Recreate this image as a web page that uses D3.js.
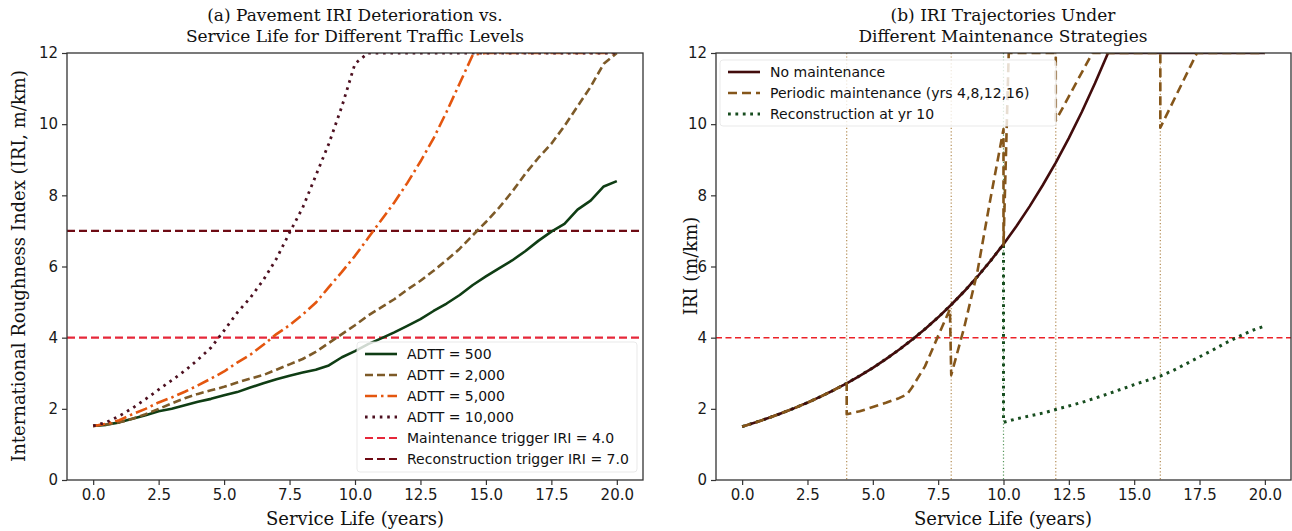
<!DOCTYPE html>
<html>
<head>
<meta charset="utf-8">
<script src="https://cdn.jsdelivr.net/npm/d3@7"></script>
<style>
body { margin: 0; background: #fff; }
svg { display: block; }
.tick text { font-family: "DejaVu Sans", sans-serif; font-size: 15px; fill: #1a1a1a; }
.tick line { stroke: #333; stroke-width: 1.2; }
.title, .alabel { font-family: "DejaVu Serif", serif; fill: #111; }
.leg { font-family: "DejaVu Sans", sans-serif; font-size: 14px; fill: #111; }
</style>
</head>
<body>
<svg id="chart" width="1292" height="531"></svg>
<script>
// ---- data ----
const years = [0,0.5,1,1.5,2,2.5,3,3.5,4,4.5,5,5.5,6,6.5,7,7.5,8,8.5,9,9.5,10,
  10.5,11,11.5,12,12.5,13,13.5,14,14.5,15,15.5,16,16.5,17,17.5,18,18.5,19,19.5,20]

const adtt500 = [1.52,1.55,1.62,1.72,1.82,1.93,2.0,2.1,2.2,2.28,2.38,2.47,2.6,2.72,2.83,2.93,3.02,3.1,3.22,3.45,3.62,
  3.82,3.98,4.15,4.33,4.52,4.75,4.96,5.2,5.48,5.72,5.95,6.17,6.43,6.72,6.98,7.2,7.6,7.85,8.25,8.4]
const adtt2000 = [1.52,1.56,1.62,1.72,1.85,2.0,2.15,2.3,2.42,2.52,2.62,2.74,2.85,2.95,3.1,3.25,3.4,3.6,3.85,4.1,4.35,
  4.62,4.85,5.08,5.35,5.6,5.88,6.18,6.5,6.88,7.25,7.65,8.1,8.6,9.05,9.45,9.95,10.5,11.05,11.7,12.0]
const adtt5000 = [1.52,1.58,1.68,1.85,2.0,2.18,2.32,2.48,2.66,2.85,3.05,3.3,3.52,3.8,4.1,4.35,4.65,4.98,5.42,5.85,6.3,
  6.8,7.3,7.8,8.35,8.95,9.6,10.35,11.15,11.95,12,12,12,12,12,12,12,12,12,12,12]
const adtt10000 = [1.52,1.62,1.8,2.02,2.27,2.54,2.8,3.07,3.38,3.72,4.2,4.7,5.12,5.62,6.22,6.95,7.65,8.55,9.45,10.5,11.7,
  12,12,12,12,12,12,12,12,12,12,12,12,12,12,12,12,12,12,12,12]
const trafficNames = ["ADTT = 500", "ADTT = 2,000", "ADTT = 5,000", "ADTT = 10,000"]
const triggerValues = [4.0, 7.0]
const triggerNames = ["Maintenance trigger IRI = 4.0", "Reconstruction trigger IRI = 7.0"]

// right panel: [year, IRI]
const noMaint = [[0,1.5],[0.5,1.616],[1,1.74],[1.5,1.875],[2,2.019],[2.5,2.175],[3,2.343],[3.5,2.523],[4,2.718],
  [4.5,2.928],[5,3.153],[5.5,3.397],[6,3.659],[6.5,3.941],[7,4.245],[7.5,4.572],[8,4.925],[8.5,5.304],[9,5.713],
  [9.5,6.154],[10,6.628],[10.5,7.139],[11,7.69],[11.5,8.283],[12,8.921],[12.5,9.609],[13,10.35],[13.5,11.15],
  [14,12],[20,12]]
const periodic = [[0,1.5],[0.5,1.616],[1,1.74],[1.5,1.875],[2,2.019],[2.5,2.175],[3,2.343],[3.5,2.523],[4,2.718],
  [4,1.85],[4.5,1.93],[5,2.05],[5.5,2.17],[6,2.3],[6.3,2.4],[6.5,2.6],[7,3.2],[7.5,4.05],[7.95,4.8],
  [8,2.95],[8.5,4.3],[9,5.85],[9.5,7.9],[10,9.86],[10,6.6],[10.2,12],[12,12],[12,10.1],[13.4,12],[16,12],[16,9.9],
  [17.4,12],[20,12]]
const recon = [[0,1.5],[0.5,1.616],[1,1.74],[1.5,1.875],[2,2.019],[2.5,2.175],[3,2.343],[3.5,2.523],[4,2.718],
  [4.5,2.928],[5,3.153],[5.5,3.397],[6,3.659],[6.5,3.941],[7,4.245],[7.5,4.572],[8,4.925],[8.5,5.304],[9,5.713],
  [9.5,6.154],[10,6.628],[10,1.62],[10.5,1.72],[11,1.8],[11.5,1.88],[12,1.98],[12.5,2.08],[13,2.18],[13.5,2.3],
  [14,2.42],[14.5,2.55],[15,2.68],[15.5,2.8],[16,2.92],[16.5,3.08],[17,3.27],[17.5,3.46],[18,3.65],[18.5,3.85],
  [19,4.03],[19.5,4.2],[20,4.33]]
const strategyNames = ["No maintenance", "Periodic maintenance (yrs 4,8,12,16)", "Reconstruction at yr 10"]
const maintYears = [4, 8, 12, 16]
const reconYear = 10

const xTicks = [0,2.5,5,7.5,10,12.5,15,17.5,20]
const yTicks = [0,2,4,6,8,10,12]

// ---- layout ----
const svg = d3.select("#chart")
const plotTop = 53, plotBottom = 480
const y = d3.scaleLinear().domain([0, 12]).range([plotBottom, plotTop])
const xA = d3.scaleLinear().domain([-1, 21]).range([67, 643])
const xB = d3.scaleLinear().domain([-1, 21]).range([716, 1291])

function axes(x, id) {
  svg.append("clipPath").attr("id", id).append("rect")
    .attr("x", x.range()[0]).attr("y", plotTop)
    .attr("width", x.range()[1] - x.range()[0]).attr("height", plotBottom - plotTop)
  const gx = svg.append("g").attr("transform", `translate(0,${plotBottom})`)
    .call(d3.axisBottom(x).tickValues(xTicks).tickFormat(d3.format(".1f")).tickSize(5).tickPadding(4).tickSizeOuter(0))
  gx.select(".domain").remove()
  const gy = svg.append("g").attr("transform", `translate(${x.range()[0]},0)`)
    .call(d3.axisLeft(y).tickValues(yTicks).tickFormat(d3.format("d")).tickSize(5).tickPadding(4).tickSizeOuter(0))
  gy.select(".domain").remove()
  return svg.append("g").attr("clip-path", `url(#${id})`)
}

function spines(x) {
  svg.append("rect").attr("x", x.range()[0]).attr("y", plotTop)
    .attr("width", x.range()[1] - x.range()[0]).attr("height", plotBottom - plotTop)
    .attr("fill", "none").attr("stroke", "#333").attr("stroke-width", 1.3)
}

function styled(sel, st) {
  sel.attr("fill", "none").attr("stroke", st.color).attr("stroke-width", st.width)
    .attr("stroke-dasharray", st.dash).attr("stroke-linejoin", "round")
  if (st.opacity) sel.attr("stroke-opacity", st.opacity)
  return sel
}

function legend(x0, y0, w, h, items) {
  const g = svg.append("g")
  g.append("rect").attr("x", x0).attr("y", y0).attr("width", w).attr("height", h).attr("rx", 3)
    .attr("fill", "#fff").attr("fill-opacity", 0.8).attr("stroke", "#e4e4e4").attr("stroke-opacity", 0.8)
  items.forEach((it, i) => {
    const cy = y0 + 12 + i * 21
    styled(g.append("line").attr("x1", x0 + 8).attr("x2", x0 + 40).attr("y1", cy).attr("y2", cy), it.style)
    g.append("text").attr("class", "leg").attr("x", x0 + 50).attr("y", cy).attr("dy", "0.35em").text(it.name)
  })
}

// ---- panel (a) ----
const lineA = d3.line().x(d => xA(d[0])).y(d => y(d[1]))
const pa = axes(xA, "clipA")
const trafficStyles = [
  {color: "#0f3d14", width: 2.6, dash: null},
  {color: "#7d5a28", width: 2.6, dash: "8,4"},
  {color: "#e4560f", width: 2.6, dash: "12,4,2.5,4"},
  {color: "#4d1020", width: 2.8, dash: "2.6,4.8"}
]
const triggerStyles = [
  {color: "#e6283a", width: 2.2, dash: "8,4"},
  {color: "#6e0b14", width: 2.2, dash: "8,4"}
]
triggerValues.forEach((v, i) => {
  styled(pa.append("line").attr("x1", xA.range()[0]).attr("x2", xA.range()[1])
    .attr("y1", y(v)).attr("y2", y(v)), triggerStyles[i])
})
;[adtt500, adtt2000, adtt5000, adtt10000].forEach((vals, i) => {
  styled(pa.append("path").datum(years.map((t, j) => [t, vals[j]])).attr("d", lineA), trafficStyles[i])
})
spines(xA)
legend(357, 342, 280, 130, trafficNames.map((n, i) => ({name: n, style: trafficStyles[i]}))
  .concat(triggerNames.map((n, i) => ({name: n, style: triggerStyles[i]}))))

// ---- panel (b) ----
const lineB = d3.line().x(d => xB(d[0])).y(d => y(d[1]))
const pb = axes(xB, "clipB")
const strategyStyles = [
  {color: "#420c0c", width: 2.6, dash: null},
  {color: "#85561a", width: 2.6, dash: "9,5"},
  {color: "#174d1f", width: 3, dash: "2.8,4.6"}
]
maintYears.forEach(t => {
  styled(pb.append("line").attr("x1", xB(t)).attr("x2", xB(t)).attr("y1", plotTop).attr("y2", plotBottom),
    {color: "#a0702a", width: 1.2, dash: "1.2,2.2", opacity: 0.8})
})
styled(pb.append("line").attr("x1", xB(reconYear)).attr("x2", xB(reconYear)).attr("y1", plotTop).attr("y2", plotBottom),
  {color: "#2e7d32", width: 1.2, dash: "1.2,2.2", opacity: 0.8})
styled(pb.append("line").attr("x1", xB.range()[0]).attr("x2", xB.range()[1]).attr("y1", y(4)).attr("y2", y(4)),
  {color: "#ec2228", width: 1.5, dash: "6,3.5"})
styled(pb.append("path").datum(recon).attr("d", lineB), strategyStyles[2])
styled(pb.append("path").datum(noMaint).attr("d", lineB), strategyStyles[0])
styled(pb.append("path").datum(periodic).attr("d", lineB), strategyStyles[1])
spines(xB)
legend(720, 60, 336, 66, strategyNames.map((n, i) => ({name: n, style: strategyStyles[i]})))

// ---- titles & labels ----
function title(cx, lines) {
  lines.forEach((s, i) => {
    svg.append("text").attr("class", "title").attr("x", cx).attr("y", 21 + i * 21)
      .attr("text-anchor", "middle").attr("font-size", 17).text(s)
  })
}
title(355, ["(a) Pavement IRI Deterioration vs.", "Service Life for Different Traffic Levels"])
title(1003, ["(b) IRI Trajectories Under", "Different Maintenance Strategies"])

svg.append("text").attr("class", "alabel").attr("x", 355).attr("y", 525).attr("text-anchor", "middle")
  .attr("font-size", 18).text("Service Life (years)")
svg.append("text").attr("class", "alabel").attr("x", 1003).attr("y", 525).attr("text-anchor", "middle")
  .attr("font-size", 18).text("Service Life (years)")
svg.append("text").attr("class", "alabel").attr("transform", "translate(25,266) rotate(-90)")
  .attr("text-anchor", "middle").attr("font-size", 18).text("International Roughness Index (IRI, m/km)")
svg.append("text").attr("class", "alabel").attr("transform", "translate(697,266) rotate(-90)")
  .attr("text-anchor", "middle").attr("font-size", 18).text("IRI (m/km)")
</script>
</body>
</html>
